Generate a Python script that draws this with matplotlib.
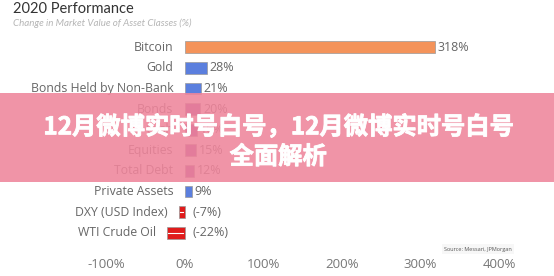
import matplotlib
matplotlib.use("Agg")
import matplotlib.pyplot as plt
import matplotlib.patheffects as pe
from matplotlib.patches import Rectangle

# ── Data ────────────────────────────────────────────────────────────────────
categories = ["Bitcoin", "Gold", "Bonds Held by Non-Bank", "Bonds", "Cash",
              "Equities", "Total Debt", "Private Assets", "DXY (USD Index)",
              "WTI Crude Oil"]
values = [318, 28, 21, 20, 16, 15, 12, 9, -7, -22]
value_labels = ["318%", "28%", "21%", "20%", "16%", "15%", "12%", "9%",
                "(-7%)", "(-22%)"]
bar_colors = ["#f4935a", "#5b7fde", "#5b7fde", "#8f3fa0", "#8f3fa0",
              "#8f3fa0", "#8f3fa0", "#5b7fde", "#e01b1b", "#e01b1b"]
xticks = [-100, 0, 100, 200, 300, 400]
xtick_labels = ["-100%", "0%", "100%", "200%", "300%", "400%"]

W, H = 554, 276
fig = plt.figure(figsize=(W / 100, H / 100), dpi=100)
fig.patch.set_facecolor("white")

ax = fig.add_axes([106 / W, (H - 243) / H, (499 - 106) / W, (243 - 37) / H])
y = list(range(len(categories)))
ax.barh(y, values, height=0.58, color=bar_colors, edgecolor="#9a9a9a",
        linewidth=0.5)

# white line through the negative bars
for i, v in enumerate(values):
    if v < 0:
        ax.plot([v + 1.5, -1.5], [i, i], color="white", lw=0.8)

for i, (v, lab, cat) in enumerate(zip(values, value_labels, categories)):
    if v >= 0:
        ax.annotate(lab, (v, i), xytext=(2, 0), textcoords="offset points",
                    va="center", ha="left", fontsize=9, color="#666666",
                    family="Open Sans")
    else:
        ax.annotate(lab, (0, i), xytext=(6, 0), textcoords="offset points",
                    va="center", ha="left", fontsize=9, color="#666666",
                    family="Open Sans")
    ax.annotate(cat, (min(v, 0), i), xytext=(-8, 0), textcoords="offset points",
                va="center", ha="right", fontsize=8.8, color="#666666",
                family="Open Sans")

ax.set_xlim(-100, 400)
ax.set_ylim(len(categories) - 0.5, -0.5)
ax.set_xticks(xticks)
ax.set_xticklabels(xtick_labels, fontsize=9.5, color="#777777", family="Open Sans")
ax.set_yticks([])
ax.tick_params(axis="x", length=0, pad=11)
for s in ax.spines.values():
    s.set_visible(False)

fig.text(13 / W, 1 - 9 / H, "2020 Performance", fontsize=10.5, color="#333333",
         family="Lato", va="center", ha="left")
fig.text(13 / W, 1 - 23 / H, "Change in Market Value of Asset Classes (%)",
         fontsize=7, color="#b5b5b5", style="italic", family="Lato",
         va="center", ha="left")
fig.text(478 / W, 1 - 249 / H, "Source: Messari, JPMorgan", fontsize=4,
         color="#555555", ha="center", va="center", family="Open Sans",
         bbox=dict(facecolor="#f7f7f7", edgecolor="none", pad=1.5))

# pink overlay banner
fig.patches.append(Rectangle((0, (H - 182) / H), 1, 89 / H,
                             transform=fig.transFigure, facecolor="#ef859b",
                             alpha=0.88, edgecolor="none", zorder=5))
cjk = ["Noto Sans CJK SC", "DejaVu Sans"]
heavy = [pe.withStroke(linewidth=0.6, foreground="white")]
fig.text(0.502, 1 - 127 / H, "12月微博实时号白号，12月微博实时号白号",
         fontsize=17.5, color="white", fontweight="bold", ha="center",
         va="center", family=cjk, zorder=6, path_effects=heavy)
fig.text(0.502, 1 - 157 / H, "全面解析", fontsize=17.5, color="white",
         fontweight="bold", ha="center", va="center", family=cjk, zorder=6,
         path_effects=heavy)

fig.savefig("out.png", dpi=100)
